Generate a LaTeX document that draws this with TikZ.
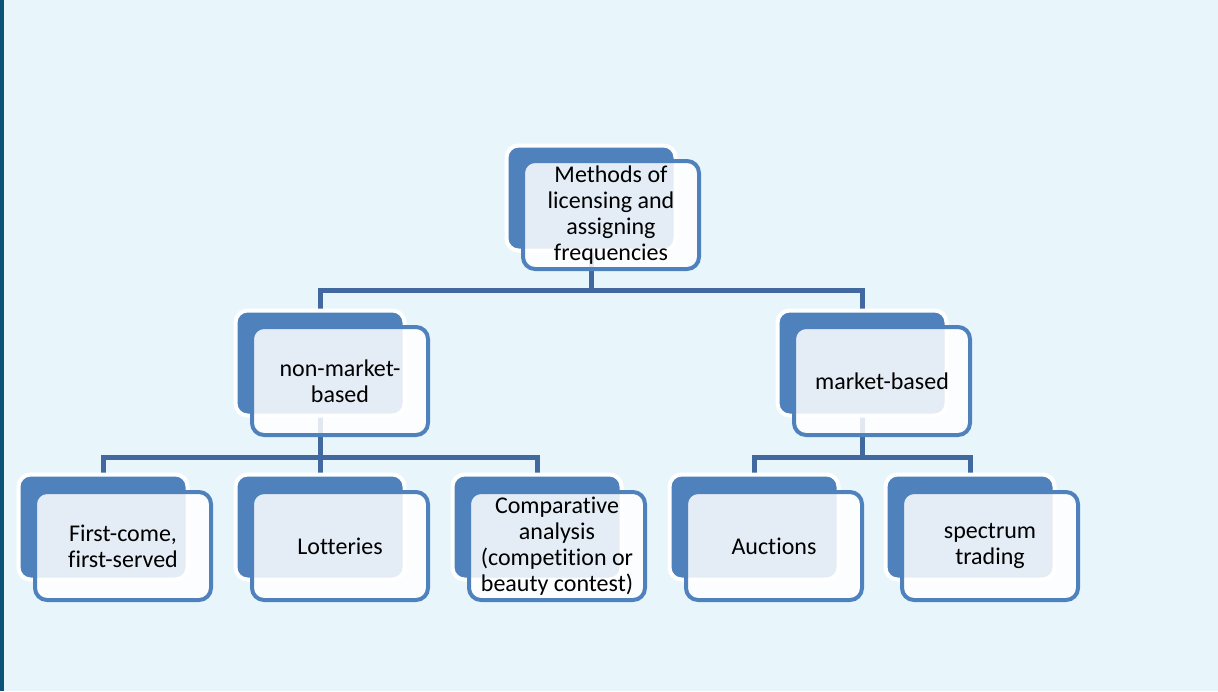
\documentclass[tikz,border=0pt]{standalone}
\usepackage{fontspec}
\setmainfont[Ligatures=NoCommon]{Carlito}
\usetikzlibrary{backgrounds}
\pgfdeclarelayer{bottom}
\pgfsetlayers{bottom,background,main}
\definecolor{boxblue}{HTML}{4F81BD}
\definecolor{linkblue}{HTML}{41699F}
\definecolor{pageblue}{HTML}{E8F6FC}
\definecolor{stripblue}{HTML}{0B5477}
\tikzset{
  backbox/.style={draw=white, line width=4pt, fill=boxblue, rounded corners=12pt,
    minimum width=169pt, minimum height=105pt},
  frontbox/.style={draw=boxblue, line width=4pt, fill=white, fill opacity=0.85,
    text opacity=1, rounded corners=12pt, minimum width=176pt, minimum height=108pt,
    inner sep=0pt, align=center, font=\fontsize{24}{26}\selectfont},
  link/.style={draw=linkblue, line width=5pt}
}
\begin{document}
\begin{tikzpicture}[x=1pt, y=-1pt]
\useasboundingbox (0,0) rectangle (1218,691);
\begin{pgfonlayer}{bottom}
\fill[pageblue] (0,0) rectangle (1218,691);
\fill[stripblue] (0,0) rectangle (4,691);
\end{pgfonlayer}

\node (methbk) [backbox] at (591,198) {};
\node (meth) [frontbox] at ([shift={(20,17)}]methbk) {Methods of\\licensing and\\assigning\\frequencies};

\node (nonbk) [backbox] at (320,363) {};
\node (non) [frontbox] at ([shift={(20,18)}]nonbk) {non-market-\\based};
\node (mktbk) [backbox] at (862,363) {};
\node (mkt) [frontbox] at ([shift={(20,18)}]mktbk) {market-based};

\node (fcfsbk) [backbox] at (103,527) {};
\node (fcfs) [frontbox] at ([shift={(20,19)}]fcfsbk) {First-come,\\first-served};
\node (lotbk) [backbox] at (320,527) {};
\node (lot) [frontbox] at ([shift={(20,19)}]lotbk) {Lotteries};
\node (compbk) [backbox] at (537,527) {};
\node (comp) [frontbox] at ([shift={(20,19)}]compbk) {Comparative\\analysis\\(competition or\\beauty contest)};
\node (aucbk) [backbox] at (754,527) {};
\node (auc) [frontbox] at ([shift={(20,19)}]aucbk) {Auctions};
\node (tradbk) [backbox] at (970,527) {};
\node (trad) [frontbox] at ([shift={(20,19)}]tradbk) {spectrum\\trading};

\coordinate (bus1) at (0,290);
\coordinate (bus2) at (0,457);
\begin{pgfonlayer}{background}
\path[link] (methbk.center) -- (methbk.center |- bus1) -| (nonbk.center);
\path[link] (methbk.center |- bus1) -| (mktbk.center);
\path[link] (nonbk.center) -- (nonbk.center |- bus2) -| (fcfsbk.center);
\path[link] (nonbk.center |- bus2) -| (compbk.center);
\path[link] (nonbk.center) -- (lotbk.center);
\path[link] (mktbk.center) -- (mktbk.center |- bus2) -| (aucbk.center);
\path[link] (mktbk.center |- bus2) -| (tradbk.center);
\end{pgfonlayer}
\end{tikzpicture}
\end{document}
